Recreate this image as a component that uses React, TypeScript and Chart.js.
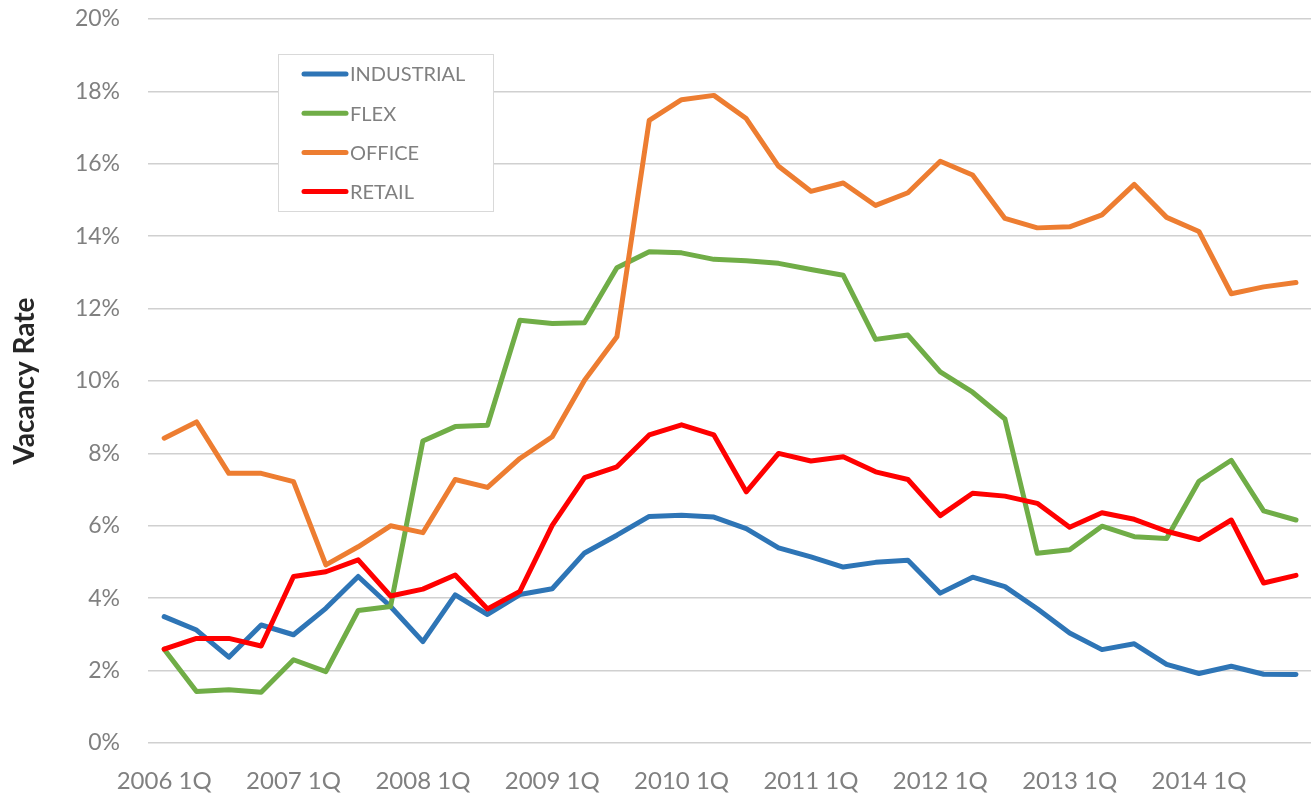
import React, { useEffect, useRef } from "react";
import { Chart, registerables } from "chart.js";

Chart.register(...registerables);

const years = [2006, 2007, 2008, 2009, 2010, 2011, 2012, 2013, 2014];
const quarterNames = ["1Q", "2Q", "3Q", "4Q"];
const categories = years.flatMap((y) => quarterNames.map((q) => `${y} ${q}`));

const industrial = [3.49, 3.12, 2.37, 3.26, 2.99, 3.72, 4.6, 3.77, 2.8, 4.09, 3.55, 4.1, 4.26, 5.25, 5.74, 6.26, 6.29, 6.24, 5.92, 5.39, 5.14, 4.86, 4.99, 5.05, 4.14, 4.58, 4.32, 3.71, 3.04, 2.58, 2.74, 2.17, 1.92, 2.12, 1.9, 1.89];
const flex = [2.59, 1.42, 1.47, 1.4, 2.3, 1.97, 3.66, 3.77, 8.34, 8.74, 8.78, 11.68, 11.59, 11.61, 13.13, 13.57, 13.54, 13.36, 13.32, 13.25, 13.08, 12.92, 11.15, 11.27, 10.25, 9.69, 8.95, 5.24, 5.34, 5.99, 5.7, 5.65, 7.23, 7.81, 6.41, 6.16];
const office = [8.42, 8.87, 7.45, 7.45, 7.22, 4.92, 5.42, 6.0, 5.81, 7.28, 7.06, 7.86, 8.46, 10.02, 11.22, 17.2, 17.77, 17.89, 17.25, 15.93, 15.24, 15.47, 14.85, 15.2, 16.07, 15.69, 14.49, 14.23, 14.26, 14.59, 15.43, 14.52, 14.13, 12.41, 12.6, 12.72];
const retail = [2.59, 2.89, 2.89, 2.68, 4.6, 4.73, 5.06, 4.06, 4.25, 4.64, 3.7, 4.19, 6.01, 7.33, 7.63, 8.51, 8.79, 8.51, 6.94, 8.0, 7.79, 7.91, 7.49, 7.28, 6.28, 6.9, 6.82, 6.62, 5.96, 6.36, 6.18, 5.85, 5.62, 6.16, 4.42, 4.63];

const seriesNames = ["INDUSTRIAL", "FLEX", "OFFICE", "RETAIL"];
const seriesColors = ["#2e75b6", "#70ad47", "#ed7d31", "#ff0000"];
const yTicks = [0, 2, 4, 6, 8, 10, 12, 14, 16, 18, 20];

const FONT = "Lato";

const boxLegend = {
  id: "boxLegend",
  afterDraw(chart: any, _args: any, opts: any) {
    const ctx = chart.ctx as CanvasRenderingContext2D;
    ctx.save();
    ctx.fillStyle = "#ffffff";
    ctx.fillRect(opts.x, opts.y, opts.w, opts.h);
    ctx.strokeStyle = "#d9d9d9";
    ctx.lineWidth = 1;
    ctx.strokeRect(opts.x + 0.5, opts.y + 0.5, opts.w, opts.h);
    chart.data.datasets.forEach((ds: any, i: number) => {
      const cy = opts.y + opts.firstRow + i * opts.rowGap;
      ctx.strokeStyle = ds.borderColor;
      ctx.lineWidth = 5;
      ctx.lineCap = "round";
      ctx.beginPath();
      ctx.moveTo(opts.lineX1, cy);
      ctx.lineTo(opts.lineX2, cy);
      ctx.stroke();
      ctx.fillStyle = "#808080";
      ctx.font = `20px ${FONT}`;
      ctx.textBaseline = "middle";
      ctx.textAlign = "left";
      ctx.fillText(ds.label, opts.textX, cy + 1);
    });
    ctx.restore();
  },
};

export default function App() {
  const ref = useRef<HTMLCanvasElement | null>(null);

  useEffect(() => {
    if (!ref.current) return;
    const seriesData = [industrial, flex, office, retail];
    const chart = new Chart(ref.current, {
      type: "line",
      data: {
        labels: categories,
        datasets: seriesData.map((d, i) => ({
          label: seriesNames[i],
          data: d,
          borderColor: seriesColors[i],
          backgroundColor: seriesColors[i],
          borderWidth: 5,
          pointRadius: 0,
          pointHoverRadius: 0,
          tension: 0,
          fill: false,
          borderJoinStyle: "round" as const,
          borderCapStyle: "round" as const,
          order: 4 - i,
        })),
      },
      options: {
        responsive: false,
        animation: false,
        devicePixelRatio: 1,
        layout: { padding: { top: 19, right: 2, left: 0, bottom: 0 } },
        plugins: {
          legend: { display: false },
          tooltip: { enabled: false },
          boxLegend: {
            x: 278,
            y: 54,
            w: 215,
            h: 157,
            firstRow: 20,
            rowGap: 39.2,
            lineX1: 304,
            lineX2: 346,
            textX: 350,
          },
        } as any,
        scales: {
          x: {
            type: "category",
            offset: true,
            grid: { display: false, drawTicks: false },
            border: { display: false },
            ticks: {
              autoSkip: false,
              maxRotation: 0,
              minRotation: 0,
              padding: 24,
              color: "#808080",
              font: { family: FONT, size: 24 },
              callback: (_v: any, idx: number) => (idx % 4 === 0 ? categories[idx] : ""),
            },
            afterFit: (s: any) => {
              s.height = 55;
            },
          },
          y: {
            min: 0,
            max: 20,
            afterBuildTicks: (s: any) => {
              s.ticks = yTicks.map((v) => ({ value: v }));
            },
            grid: { color: "#d0d0d0", lineWidth: 1.5, drawTicks: false },
            border: { display: false },
            ticks: {
              padding: 28,
              color: "#808080",
              font: { family: FONT, size: 23 },
              callback: (v: any) => `${v}%`,
            },
            title: {
              display: true,
              text: "Vacancy Rate",
              color: "#262626",
              font: { family: FONT, size: 28, weight: "bold" },
              padding: { top: 8, bottom: 0 },
            },
            afterFit: (s: any) => {
              s.width = 148;
              s.paddingTop = 0;
              s.paddingBottom = 0;
            },
          },
        },
      },
      plugins: [boxLegend],
    });
    return () => chart.destroy();
  }, []);

  return (
    <div style={{ position: "fixed", left: 0, top: 0, width: 1320, height: 798, overflow: "hidden", background: "#fff" }}>
      <canvas ref={ref} width={1320} height={798} style={{ display: "block" }} />
    </div>
  );
}
